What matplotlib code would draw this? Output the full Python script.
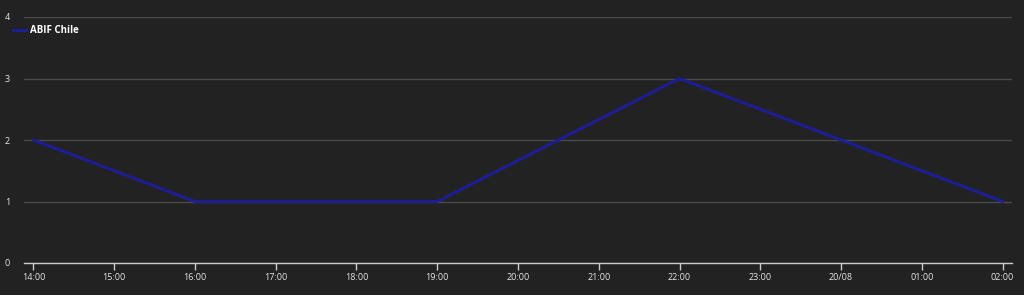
import matplotlib
matplotlib.use("Agg")
import matplotlib.pyplot as plt
import matplotlib.dates as mdates
from datetime import datetime, timedelta

# data
times = ["2023-08-19 14:00", "2023-08-19 16:00", "2023-08-19 19:00",
         "2023-08-19 22:00", "2023-08-20 00:00", "2023-08-20 02:00"]
values = [2, 1, 1, 3, 2, 1]
series_name = "ABIF Chile"
tick_labels = ["14:00", "15:00", "16:00", "17:00", "18:00", "19:00", "20:00",
               "21:00", "22:00", "23:00", "20/08", "01:00", "02:00"]
y_ticks = [0, 1, 2, 3, 4]

x = [datetime.strptime(t, "%Y-%m-%d %H:%M") for t in times]
start = datetime(2023, 8, 19, 14, 0)
ticks = [start + timedelta(hours=i) for i in range(len(tick_labels))]

bg = "#222222"
plt.rcParams["font.family"] = ["Open Sans", "DejaVu Sans"]

fig = plt.figure(figsize=(10.24, 2.95), dpi=100, facecolor=bg)
ax = fig.add_axes([24 / 1024, 32 / 295, 988 / 1024, 246 / 295], facecolor=bg)

ax.plot(x, values, color="#1d1d96", linewidth=2.2, label=series_name,
        solid_joinstyle="miter", zorder=3)

ax.set_xlim(start - timedelta(minutes=7), ticks[-1] + timedelta(minutes=7))
ax.set_ylim(0, 4)
ax.set_xticks(ticks)
ax.set_xticklabels(tick_labels)
ax.set_yticks(y_ticks)

ax.grid(axis="y", color="#4a4a4a", linewidth=1)
ax.set_axisbelow(True)
for s in ["top", "right", "left"]:
    ax.spines[s].set_visible(False)
ax.spines["bottom"].set_color("#cccccc")
ax.spines["bottom"].set_linewidth(1)

ax.tick_params(axis="x", colors="#e6e6e6", labelsize=6.5, length=5, width=1,
               pad=2, color="#cccccc")
ax.tick_params(axis="y", colors="#e6e6e6", labelsize=6.5, length=0, pad=10)
for lbl in ax.get_yticklabels():
    lbl.set_verticalalignment("center_baseline")

leg = ax.legend(loc="upper left", bbox_to_anchor=(-0.020, 1.003), frameon=False,
                handlelength=1.3, handletextpad=0.4,
                prop={"weight": "bold", "size": 7})
for t in leg.get_texts():
    t.set_color("#ffffff")

fig.savefig("out.png", dpi=100, facecolor=bg)
